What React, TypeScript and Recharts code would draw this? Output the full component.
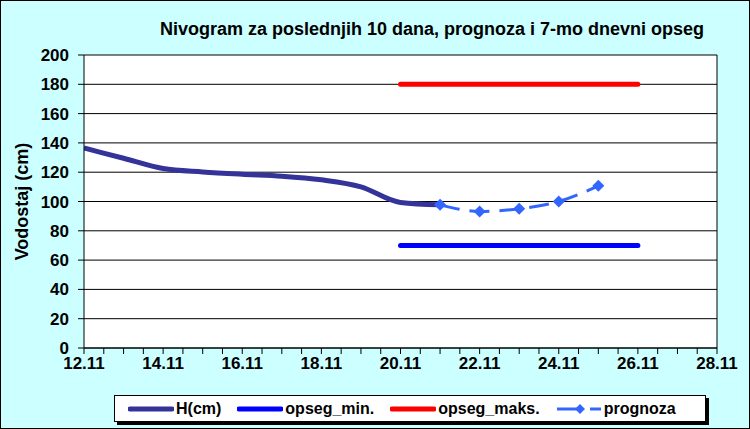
import React from "react";
import {
  LineChart,
  Line,
  XAxis,
  YAxis,
  CartesianGrid,
  ReferenceLine,
  Legend,
} from "recharts";

// measured water level (cm), one point per day in November
const hDays = [12, 13, 14, 15, 16, 17, 18, 19, 20, 21];
const hValues = [136.5, 129.5, 122.5, 120.2, 118.6, 117.3, 114.8, 110, 99.3, 97.7];

// forecast
const prognozaDays = [21, 22, 23, 24, 25];
const prognozaValues = [97.7, 93.2, 95, 100, 110.7];

// 7-day range
const opsegDays = [20, 26];
const opsegMin = [70, 70];
const opsegMax = [180, 180];

const yTicks = [0, 20, 40, 60, 80, 100, 120, 140, 160, 180, 200];
const xLabelDays = [12, 14, 16, 18, 20, 22, 24, 26, 28];
const xTicks = Array.from({ length: 33 }, (_, i) => 12 + i / 2);

const hData = hDays.map((day, i) => ({ day, value: hValues[i] }));
const prognozaData = prognozaDays.map((day, i) => ({ day, value: prognozaValues[i] }));
const minData = opsegDays.map((day, i) => ({ day, value: opsegMin[i] }));
const maxData = opsegDays.map((day, i) => ({ day, value: opsegMax[i] }));

const FONT = "Arial, 'Liberation Sans', sans-serif";
const tickStyle = { fontFamily: FONT, fontSize: 17, fontWeight: 700, fill: "#000" };

const COLORS = {
  h: "#333399",
  min: "#0000FF",
  max: "#FF0000",
  prognoza: "#3366FF",
};

const Diamond = (props: any) => {
  const { cx, cy, index } = props;
  if (cx == null || cy == null) return <g key={index} />;
  const r = 6;
  return (
    <path
      key={index}
      d={`M${cx},${cy - r} L${cx + r},${cy} L${cx},${cy + r} L${cx - r},${cy} Z`}
      fill={COLORS.prognoza}
    />
  );
};

const legendItems = [
  { name: "H(cm)", color: COLORS.h, kind: "line" },
  { name: "opseg_min.", color: COLORS.min, kind: "line" },
  { name: "opseg_maks.", color: COLORS.max, kind: "line" },
  { name: "prognoza", color: COLORS.prognoza, kind: "dash" },
];

const LegendBox = () => (
  <div
    style={{
      boxSizing: "border-box",
      height: 27,
      border: "1px solid #000",
      background: "#fff",
      boxShadow: "3px 3px 0 #000",
      display: "flex",
      alignItems: "center",
      paddingLeft: 13,
      fontFamily: FONT,
      fontWeight: 700,
      fontSize: 16,
      color: "#000",
    }}
  >
    {legendItems.map((it) => (
      <div key={it.name} style={{ display: "flex", alignItems: "center", marginRight: 16 }}>
        <svg width={46} height={12} style={{ marginRight: 2 }}>
          {it.kind === "line" ? (
            <line x1={2} y1={6} x2={44} y2={6} stroke={it.color} strokeWidth={5} strokeLinecap="round" />
          ) : (
            <g>
              <line x1={1} y1={6} x2={24} y2={6} stroke={it.color} strokeWidth={3} />
              <path d="M24,1 L29,6 L24,11 L19,6 Z" fill={it.color} />
              <line x1={34} y1={6} x2={45} y2={6} stroke={it.color} strokeWidth={3} />
            </g>
          )}
        </svg>
        <span>{it.name}</span>
      </div>
    ))}
  </div>
);

const YLabel = (props: any) => {
  const { viewBox } = props;
  const cx = viewBox.x + 22;
  const cy = viewBox.y + viewBox.height / 2;
  return (
    <text
      x={cx}
      y={cy}
      transform={`rotate(-90 ${cx} ${cy})`}
      textAnchor="middle"
      dominantBaseline="central"
      style={{ fontFamily: FONT, fontSize: 18, fontWeight: 700, fill: "#000" }}
    >
      Vodostaj (cm)
    </text>
  );
};

export default function App() {
  return (
    <div
      style={{
        position: "absolute",
        left: 0,
        top: 0,
        width: 750,
        height: 429,
        background: "#CCFFFF",
        overflow: "hidden",
      }}
    >
      <div
        style={{
          position: "absolute",
          left: 160,
          top: 19,
          fontFamily: FONT,
          fontWeight: 700,
          fontSize: 18,
          lineHeight: "20px",
          color: "#000",
          whiteSpace: "nowrap",
        }}
      >
        Nivogram za poslednjih 10 dana, prognoza i 7-mo dnevni opseg
      </div>
      <LineChart width={750} height={429} margin={{ top: 55, right: 33, bottom: 7, left: 0 }}>
        <CartesianGrid vertical={false} stroke="#000" fill="#fff" fillOpacity={1} />
        <XAxis
          type="number"
          dataKey="day"
          domain={[12, 28]}
          ticks={xTicks}
          interval={0}
          tickFormatter={(v: number) => (xLabelDays.includes(v) ? `${v}.11` : "")}
          height={47}
          tickSize={6}
          tickMargin={3}
          stroke="#000"
          tick={tickStyle}
          allowDataOverflow
        />
        <YAxis
          type="number"
          domain={[0, 200]}
          ticks={yTicks}
          interval={0}
          width={84}
          tickSize={6}
          tickMargin={9}
          stroke="#000"
          tick={tickStyle}
          label={<YLabel />}
        />
        <ReferenceLine x={28} stroke="#000" />
        <Line
          data={hData}
          dataKey="value"
          name="H(cm)"
          type="monotone"
          stroke={COLORS.h}
          strokeWidth={5}
          dot={false}
          isAnimationActive={false}
        />
        <Line
          data={minData}
          dataKey="value"
          name="opseg_min."
          type="linear"
          stroke={COLORS.min}
          strokeWidth={5}
          strokeLinecap="round"
          dot={false}
          isAnimationActive={false}
        />
        <Line
          data={maxData}
          dataKey="value"
          name="opseg_maks."
          type="linear"
          stroke={COLORS.max}
          strokeWidth={5}
          strokeLinecap="round"
          dot={false}
          isAnimationActive={false}
        />
        <Line
          data={prognozaData}
          dataKey="value"
          name="prognoza"
          type="monotone"
          stroke={COLORS.prognoza}
          strokeWidth={3}
          strokeDasharray="20 10"
          dot={<Diamond />}
          isAnimationActive={false}
        />
        <Legend
          verticalAlign="bottom"
          content={() => <LegendBox />}
          wrapperStyle={{ left: 114, width: 592 }}
        />
      </LineChart>
      <div
        style={{
          position: "absolute",
          left: 0,
          top: 0,
          width: 750,
          height: 429,
          boxSizing: "border-box",
          border: "1px solid #000",
          pointerEvents: "none",
        }}
      />
    </div>
  );
}
